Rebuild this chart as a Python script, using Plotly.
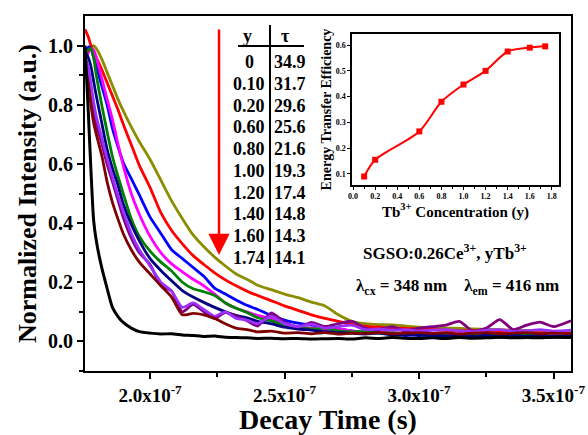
import plotly.graph_objects as go

# ---------------- data ----------------
t_e7 = [1.758, 1.77, 1.78, 1.79, 1.80, 1.82, 1.84, 1.86, 1.88, 1.90, 1.93, 1.96, 2.00, 2.04, 2.08,
        2.12, 2.16, 2.20, 2.24, 2.28, 2.32, 2.36, 2.40, 2.45, 2.50, 2.55, 2.60, 2.65, 2.70, 2.75,
        2.80, 2.85, 2.90, 2.95, 3.00, 3.05, 3.10, 3.15, 3.20, 3.25, 3.30, 3.35, 3.40, 3.45, 3.50, 3.565]

olive = [0.975, 0.985, 0.993, 1.0, 0.99, 0.955, 0.91, 0.865, 0.82, 0.78, 0.725, 0.675, 0.615, 0.545, 0.475,
         0.415, 0.36, 0.32, 0.285, 0.255, 0.228, 0.21, 0.19, 0.175, 0.16, 0.148, 0.133, 0.12, 0.09, 0.068,
         0.06, 0.057, 0.056, 0.052, 0.048, 0.047, 0.045, 0.044, 0.042, 0.041, 0.04, 0.038, 0.037, 0.035, 0.034, 0.032]
red = [1.055, 1.03, 1.0, 0.98, 0.96, 0.92, 0.875, 0.83, 0.785, 0.735, 0.665, 0.595, 0.52, 0.435, 0.375,
       0.33, 0.29, 0.26, 0.232, 0.208, 0.188, 0.17, 0.155, 0.138, 0.12, 0.105, 0.09, 0.078, 0.068, 0.058,
       0.052, 0.048, 0.046, 0.044, 0.042, 0.04, 0.038, 0.036, 0.037, 0.034, 0.033, 0.032, 0.03, 0.029, 0.028, 0.027]
blue = [0.98, 0.995, 0.99, 0.96, 0.93, 0.865, 0.8, 0.72, 0.66, 0.605, 0.55, 0.495, 0.42, 0.365, 0.31,
        0.28, 0.25, 0.22, 0.18, 0.16, 0.14, 0.122, 0.108, 0.088, 0.072, 0.062, 0.055, 0.05, 0.042, 0.036,
        0.03, 0.032, 0.024, 0.02, 0.022, 0.018, 0.016, 0.02, 0.015, 0.018, 0.014, 0.02, 0.015, 0.016, 0.014, 0.018]
magenta = [0.95, 0.975, 0.99, 0.985, 0.96, 0.89, 0.82, 0.75, 0.67, 0.595, 0.5, 0.43, 0.355, 0.3, 0.262,
           0.235, 0.21, 0.188, 0.16, 0.13, 0.112, 0.1, 0.088, 0.078, 0.062, 0.05, 0.045, 0.04, 0.042, 0.035,
           0.03, 0.034, 0.028, 0.03, 0.025, 0.028, 0.022, 0.026, 0.024, 0.025, 0.022, 0.026, 0.023, 0.025, 0.022, 0.024]
green = [0.97, 0.985, 0.99, 0.96, 0.9, 0.8, 0.71, 0.625, 0.56, 0.5, 0.415, 0.355, 0.305, 0.268, 0.238,
         0.2, 0.178, 0.168, 0.155, 0.13, 0.112, 0.098, 0.08, 0.07, 0.055, 0.048, 0.042, 0.045, 0.036, 0.032,
         0.034, 0.028, 0.03, 0.025, 0.026, 0.022, 0.025, 0.02, 0.023, 0.02, 0.022, 0.019, 0.021, 0.02, 0.018, 0.02]
navy = [0.98, 0.96, 0.93, 0.88, 0.83, 0.74, 0.65, 0.585, 0.53, 0.465, 0.395, 0.34, 0.28, 0.24, 0.205,
        0.172, 0.15, 0.132, 0.115, 0.1, 0.088, 0.08, 0.068, 0.06, 0.048, 0.042, 0.038, 0.033, 0.03, 0.027,
        0.025, 0.028, 0.022, 0.024, 0.02, 0.022, 0.019, 0.021, 0.018, 0.02, 0.017, 0.02, 0.018, 0.019, 0.017, 0.018]
purple = [0.95, 0.9, 0.83, 0.77, 0.73, 0.67, 0.6, 0.54, 0.48, 0.42, 0.35, 0.3, 0.26, 0.19, 0.17,
          0.1, 0.125, 0.1, 0.078, 0.098, 0.085, 0.07, 0.052, 0.096, 0.065, 0.048, 0.064, 0.05, 0.06, 0.068,
          0.045, 0.04, 0.05, 0.035, 0.045, 0.05, 0.055, 0.068, 0.035, 0.045, 0.074, 0.04, 0.055, 0.065, 0.05, 0.07]
violet = [0.96, 0.93, 0.87, 0.81, 0.76, 0.69, 0.62, 0.555, 0.495, 0.44, 0.365, 0.31, 0.255, 0.2, 0.17,
          0.115, 0.13, 0.108, 0.085, 0.1, 0.078, 0.072, 0.06, 0.085, 0.06, 0.05, 0.058, 0.045, 0.05, 0.055,
          0.04, 0.042, 0.038, 0.04, 0.035, 0.038, 0.04, 0.036, 0.033, 0.038, 0.04, 0.034, 0.036, 0.04, 0.035, 0.038]
maroon = [0.93, 0.87, 0.8, 0.74, 0.7, 0.63, 0.54, 0.47, 0.415, 0.365, 0.31, 0.268, 0.228, 0.188, 0.15,
          0.09, 0.095, 0.09, 0.078, 0.06, 0.045, 0.04, 0.032, 0.035, 0.028, 0.03, 0.026, 0.03, 0.025, 0.028,
          0.027, 0.03, 0.026, 0.028, 0.03, 0.027, 0.03, 0.025, 0.028, 0.03, 0.026, 0.028, 0.03, 0.026, 0.028, 0.026]
black = [1.0, 0.78, 0.58, 0.41, 0.34, 0.25, 0.18, 0.115, 0.085, 0.064, 0.045, 0.033, 0.028, 0.025, 0.026,
         0.022, 0.02, 0.017, 0.018, 0.014, 0.013, 0.012, 0.01, 0.011, 0.009, 0.01, 0.008, 0.009, 0.01, 0.008,
         0.012, 0.01, 0.013, 0.011, 0.01, 0.012, 0.01, 0.013, 0.011, 0.012, 0.014, 0.012, 0.013, 0.012, 0.014, 0.013]

series = [("olive", olive, "#8c8c00"), ("red", red, "#ff0000"), ("blue", blue, "#0000ff"),
          ("magenta", magenta, "#ff00ff"), ("green", green, "#008000"), ("navy", navy, "#000080"),
          ("purple", purple, "#800080"), ("violet", violet, "#9b30ff"), ("maroon", maroon, "#800000"),
          ("black", black, "#000000")]

table_y = ["0", "0.10", "0.20", "0.60", "0.80", "1.00", "1.20", "1.40", "1.60", "1.74"]
table_tau = ["34.9", "31.7", "29.6", "25.6", "21.6", "19.3", "17.4", "14.8", "14.3", "14.1"]

eff_conc = [0.1, 0.2, 0.6, 0.8, 1.0, 1.2, 1.4, 1.6, 1.74]
eff_val = [0.09, 0.155, 0.265, 0.38, 0.447, 0.50, 0.575, 0.59, 0.595]

x_tickvals = [2.0e-7, 2.5e-7, 3.0e-7, 3.5e-7]
x_ticktext = ["2.0x10<sup>-7</sup>", "2.5x10<sup>-7</sup>", "3.0x10<sup>-7</sup>", "3.5x10<sup>-7</sup>"]
x_minor = [2.25e-7, 2.75e-7, 3.25e-7]
y_tickvals = [0, 0.2, 0.4, 0.6, 0.8, 1.0]
y_ticktext = ["0.0", "0.2", "0.4", "0.6", "0.8", "1.0"]
y_minor = [-0.1, 0.1, 0.3, 0.5, 0.7, 0.9]

# ---------------- geometry helpers ----------------
W, H = 588, 435
L, R, T, B = 85, 571, 16, 371


def px(x):
    return (x - L) / (R - L)


def py(y):
    return (B - y) / (B - T)


FONT = "Liberation Serif"

fig = go.Figure()
tt = [v * 1e-7 for v in t_e7]
for name, vals, col in series:
    fig.add_trace(go.Scatter(x=tt, y=vals, mode="lines", name=name,
                             line=dict(color=col, width=2.8 if name != "black" else 3, shape="spline", smoothing=0.6),
                             showlegend=False))

fig.add_trace(go.Scatter(x=eff_conc, y=eff_val, xaxis="x2", yaxis="y2", mode="lines+markers",
                         line=dict(color="#ff0000", width=2, shape="spline", smoothing=0.8),
                         marker=dict(symbol="square", size=6, color="#ff0000"), showlegend=False))

axis_common = dict(showline=True, linecolor="black", mirror=True, showgrid=False, zeroline=False,
                   ticks="outside", tickcolor="black", automargin=False)

fig.update_layout(
    width=W, height=H,
    margin=dict(l=L, r=W - R, t=T, b=H - B, autoexpand=False),
    paper_bgcolor="white", plot_bgcolor="white",
    font=dict(family=FONT, color="black"),
    xaxis=dict(**axis_common, linewidth=2, range=[1.758e-7, 3.565e-7], tickmode="array",
               tickvals=x_tickvals, ticktext=x_ticktext, ticklen=6, tickwidth=2,
               tickfont=dict(size=19, family=FONT, weight="bold"),
               minor=dict(tickvals=x_minor, ticks="outside", ticklen=4, tickwidth=2, tickcolor="black"),
               title=dict(text="Decay Time (s)", font=dict(size=28, family=FONT, weight="bold"), standoff=7)),
    yaxis=dict(**axis_common, linewidth=2, range=[-0.1, 1.1], tickmode="array",
               tickvals=y_tickvals, ticktext=y_ticktext,
               ticklen=6, tickwidth=2, tickfont=dict(size=20, family=FONT, weight="bold"),
               minor=dict(tickvals=y_minor, ticks="outside", ticklen=4, tickwidth=2, tickcolor="black"),
               title=dict(text="Normalized Intensity (a.u.)", font=dict(size=26, family=FONT, weight="bold"),
                          standoff=4)),
    xaxis2=dict(**axis_common, linewidth=1.5, domain=[px(352), px(559)], anchor="y2",
                range=[-0.01, 1.865], dtick=0.2, tick0=0, tickformat=".1f", ticklen=3, tickwidth=1,
                tickfont=dict(size=8, family=FONT, weight="bold"),
                minor=dict(dtick=0.1, tick0=0, ticks="outside", ticklen=2, tickcolor="black"),
                title=dict(text="Tb<sup>3+</sup> Concentration (y)", font=dict(size=15, family=FONT, weight="bold"),
                           standoff=0)),
    yaxis2=dict(**axis_common, linewidth=1.5, domain=[py(185), py(34)], anchor="x2",
                range=[0.057, 0.643], dtick=0.1, tick0=0, tickformat=".1f", ticklen=3, tickwidth=1,
                tickfont=dict(size=8, family=FONT, weight="bold"),
                title=dict(text="Energy Transfer Efficiency", font=dict(size=14, family=FONT, weight="bold"),
                           standoff=1)),
)

ann = []
tf = dict(size=18, family=FONT, weight="bold", color="black")
ann.append(dict(x=px(247), y=py(36), xref="paper", yref="paper", text="y", showarrow=False, font=tf,
                xanchor="center", yanchor="middle"))
ann.append(dict(x=px(285), y=py(36), xref="paper", yref="paper", text="τ", showarrow=False, font=tf,
                xanchor="center", yanchor="middle"))
for i, (yv, tv) in enumerate(zip(table_y, table_tau)):
    yy = 62 + i * 21.78
    ann.append(dict(x=px(249), y=py(yy), xref="paper", yref="paper", text=yv, showarrow=False, font=tf,
                    xanchor="center", yanchor="middle"))
    ann.append(dict(x=px(290), y=py(yy), xref="paper", yref="paper", text=tv, showarrow=False, font=tf,
                    xanchor="center", yanchor="middle"))

# red arrow
ann.append(dict(x=px(219), y=py(255), xref="paper", yref="paper", ax=0, ay=-(255 - 28), axref="pixel",
                ayref="pixel", text="", showarrow=True, arrowhead=2, arrowsize=1.7, arrowwidth=2.5,
                arrowcolor="#ff0000"))

ann.append(dict(x=px(445), y=py(252), xref="paper", yref="paper",
                text="SGSO:0.26Ce<sup>3+</sup>, yTb<sup>3+</sup>", showarrow=False,
                font=dict(size=17, family=FONT, weight="bold", color="black"), xanchor="center", yanchor="middle"))
ann.append(dict(x=px(457), y=py(287), xref="paper", yref="paper",
                text="λ<sub>cx</sub> = 348 nm&nbsp;&nbsp;&nbsp;&nbsp;λ<sub>em</sub> = 416 nm", showarrow=False,
                font=dict(size=17, family=FONT, weight="bold", color="black"), xanchor="center", yanchor="middle"))

fig.update_layout(annotations=ann)

fig.add_shape(type="line", xref="paper", yref="paper", x0=px(238), x1=px(304), y0=py(46), y1=py(46),
              line=dict(color="black", width=2))
fig.add_shape(type="line", xref="paper", yref="paper", x0=px(270), x1=px(270), y0=py(25), y1=py(268),
              line=dict(color="black", width=2))

fig.write_html("out.html")
